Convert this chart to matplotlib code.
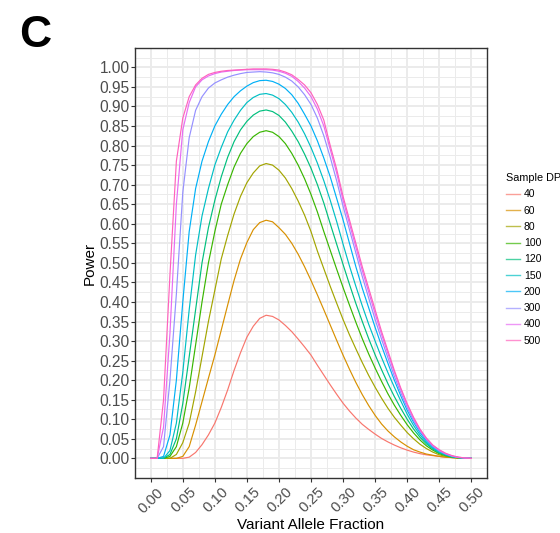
import matplotlib
matplotlib.use("Agg")
import matplotlib.pyplot as plt
import matplotlib.transforms as mtrans
from matplotlib.ticker import MultipleLocator

plt.rcParams['font.family'] = ['Liberation Sans', 'DejaVu Sans']

vaf = [0.00, 0.01, 0.02, 0.03, 0.04, 0.05, 0.06, 0.07, 0.08, 0.09, 0.10,
       0.11, 0.12, 0.13, 0.14, 0.15, 0.16, 0.17, 0.18, 0.19, 0.20,
       0.21, 0.22, 0.23, 0.24, 0.25, 0.26, 0.27, 0.28, 0.29, 0.30,
       0.31, 0.32, 0.33, 0.34, 0.35, 0.36, 0.37, 0.38, 0.39, 0.40,
       0.41, 0.42, 0.43, 0.44, 0.45, 0.46, 0.47, 0.48, 0.49, 0.50]

depths = ["40", "60", "80", "100", "120", "150", "200", "300", "400", "500"]

dp40 = [0, 0, 0, 0, 0, 0, 0.003, 0.015, 0.035, 0.06, 0.09, 0.13, 0.175, 0.225, 0.27, 0.31,
        0.338, 0.358, 0.366, 0.363, 0.354, 0.34, 0.324, 0.305, 0.285, 0.264,
        0.238, 0.213, 0.188, 0.164, 0.141, 0.121, 0.103, 0.087, 0.074, 0.062,
        0.051, 0.042, 0.034, 0.027, 0.021, 0.016, 0.012, 0.009, 0.007, 0.005,
        0.003, 0.002, 0.001, 0, 0]
dp60 = [0, 0, 0, 0, 0, 0.005, 0.03, 0.085, 0.145, 0.205, 0.264, 0.328, 0.392, 0.455, 0.51, 0.552,
        0.585, 0.603, 0.609, 0.605, 0.59, 0.573, 0.55, 0.522, 0.49, 0.455,
        0.418, 0.38, 0.341, 0.302, 0.264, 0.228, 0.194, 0.163, 0.135, 0.11,
        0.088, 0.07, 0.055, 0.042, 0.031, 0.022, 0.016, 0.011, 0.008, 0.005,
        0.003, 0.002, 0.001, 0, 0]
dp80 = [0, 0, 0, 0, 0.01, 0.04, 0.09, 0.17, 0.26, 0.35, 0.43, 0.51, 0.57, 0.625, 0.67, 0.705,
        0.73, 0.748, 0.754, 0.75, 0.737, 0.717, 0.69, 0.658, 0.622, 0.58,
        0.53, 0.485, 0.44, 0.397, 0.355, 0.316, 0.28, 0.245, 0.212, 0.182,
        0.154, 0.128, 0.105, 0.085, 0.066, 0.05, 0.036, 0.025, 0.016, 0.009,
        0.005, 0.002, 0.001, 0, 0]
dp100 = [0, 0, 0, 0.005, 0.03, 0.09, 0.18, 0.29, 0.4, 0.5, 0.58, 0.65, 0.70, 0.745, 0.78, 0.805,
         0.823, 0.834, 0.838, 0.834, 0.823, 0.805, 0.78, 0.75, 0.715, 0.675,
         0.63, 0.58, 0.532, 0.484, 0.437, 0.392, 0.348, 0.306, 0.267, 0.231,
         0.197, 0.165, 0.136, 0.11, 0.086, 0.065, 0.047, 0.032, 0.021, 0.012,
         0.007, 0.003, 0.001, 0.0005, 0]
dp120 = [0, 0, 0, 0.01, 0.05, 0.14, 0.26, 0.38, 0.5, 0.59, 0.66, 0.72, 0.77, 0.81, 0.84, 0.862,
         0.878, 0.888, 0.891, 0.887, 0.877, 0.86, 0.837, 0.81, 0.778, 0.742,
         0.70, 0.653, 0.60, 0.548, 0.496, 0.445, 0.396, 0.35, 0.306, 0.265,
         0.227, 0.191, 0.158, 0.128, 0.1, 0.075, 0.054, 0.037, 0.024, 0.014,
         0.008, 0.004, 0.002, 0.0005, 0]
dp150 = [0, 0, 0, 0.02, 0.09, 0.22, 0.38, 0.52, 0.62, 0.69, 0.75, 0.795, 0.835, 0.865, 0.89, 0.91,
         0.923, 0.931, 0.933, 0.929, 0.92, 0.905, 0.885, 0.86, 0.83, 0.795,
         0.755, 0.71, 0.66, 0.606, 0.548, 0.492, 0.44, 0.39, 0.343, 0.3,
         0.258, 0.219, 0.182, 0.147, 0.113, 0.084, 0.06, 0.041, 0.026, 0.016,
         0.009, 0.004, 0.002, 0.001, 0]
dp200 = [0, 0, 0.005, 0.06, 0.2, 0.4, 0.58, 0.69, 0.76, 0.81, 0.85, 0.88, 0.905, 0.925, 0.94, 0.952,
         0.961, 0.966, 0.967, 0.964, 0.957, 0.946, 0.93, 0.908, 0.88, 0.85,
         0.812, 0.768, 0.72, 0.665, 0.61, 0.55, 0.49, 0.435, 0.385, 0.335,
         0.288, 0.243, 0.2, 0.16, 0.123, 0.092, 0.066, 0.045, 0.029, 0.018,
         0.01, 0.005, 0.002, 0.001, 0]
dp300 = [0, 0, 0.03, 0.2, 0.42, 0.68, 0.82, 0.89, 0.925, 0.947, 0.96, 0.968, 0.975, 0.98, 0.984, 0.987,
         0.988, 0.989, 0.988, 0.986, 0.982, 0.975, 0.965, 0.95, 0.93, 0.905,
         0.87, 0.825, 0.77, 0.71, 0.645, 0.585, 0.525, 0.465, 0.41, 0.355,
         0.305, 0.257, 0.21, 0.168, 0.13, 0.097, 0.07, 0.048, 0.031, 0.019,
         0.011, 0.006, 0.002, 0.001, 0]
dp400 = [0, 0, 0.08, 0.32, 0.65, 0.84, 0.91, 0.95, 0.968, 0.978, 0.984, 0.988, 0.99, 0.992, 0.993, 0.994,
         0.994, 0.994, 0.994, 0.993, 0.99, 0.985, 0.977, 0.964, 0.947, 0.925,
         0.893, 0.85, 0.79, 0.73, 0.66, 0.60, 0.54, 0.48, 0.425, 0.37,
         0.317, 0.268, 0.22, 0.176, 0.137, 0.102, 0.073, 0.05, 0.033, 0.021,
         0.012, 0.006, 0.003, 0.001, 0]
dp500 = [0, 0, 0.15, 0.47, 0.76, 0.87, 0.925, 0.955, 0.972, 0.982, 0.987, 0.99, 0.992, 0.993, 0.994, 0.995,
         0.996, 0.996, 0.996, 0.995, 0.993, 0.988, 0.981, 0.969, 0.955, 0.935,
         0.905, 0.865, 0.80, 0.74, 0.67, 0.61, 0.55, 0.49, 0.435, 0.38,
         0.325, 0.275, 0.225, 0.18, 0.14, 0.105, 0.075, 0.052, 0.034, 0.022,
         0.013, 0.007, 0.003, 0.001, 0]

series = [dp40, dp60, dp80, dp100, dp120, dp150, dp200, dp300, dp400, dp500]
colors = ["#F8766D", "#D89000", "#A3A500", "#39B600", "#00BF7D",
          "#00BFC4", "#00B0F6", "#9590FF", "#E76BF3", "#FF62BC"]

W, H = 560, 533
fig = plt.figure(figsize=(W / 100, H / 100), dpi=100)
ax = fig.add_axes([134.7 / W, 1 - 477.9 / H, (487.3 - 134.7) / W, (477.9 - 47.8) / H])

for lab, ys, c in zip(depths, series, colors):
    ax.plot(vaf, ys, color=c, lw=0.85, label=lab, solid_joinstyle='round')

ax.set_xlim(-0.025, 0.525)
ax.set_ylim(-0.05, 1.05)
ax.xaxis.set_minor_locator(MultipleLocator(0.025))
ax.yaxis.set_minor_locator(MultipleLocator(0.025))
ax.grid(which='major', color='#EBEBEB', lw=1.4)
ax.grid(which='minor', color='#EBEBEB', lw=0.7)
ax.set_axisbelow(True)
for s in ax.spines.values():
    s.set_color('#333333')
    s.set_linewidth(1.0)

ax.tick_params(which='major', length=2.75, width=0.8, color='#333333',
               labelsize=11.2, labelcolor='#4D4D4D', pad=1.0)
ax.tick_params(axis='x', which='major', labelsize=10.7)
ax.tick_params(which='minor', length=0)

xt = [0.00, 0.05, 0.10, 0.15, 0.20, 0.25, 0.30, 0.35, 0.40, 0.45, 0.50]
ax.set_xticks(xt)
ax.set_xticklabels([f"{v:.2f}" for v in xt], rotation=45, ha='right', va='top',
                   rotation_mode='anchor')
off = mtrans.ScaledTranslation(6 / 100, -2 / 100, fig.dpi_scale_trans)
for t in ax.get_xticklabels():
    t.set_transform(t.get_transform() + off)
yt = [i * 0.05 for i in range(21)]
ax.set_yticks(yt)
ax.set_yticklabels([f"{v:.2f}" for v in yt])

fig.text(311 / W, 1 - 525 / H, "Variant Allele Fraction", fontsize=11, ha='center', va='center')
fig.text(90 / W, 1 - 263 / H, "Power", fontsize=11, ha='center', va='center', rotation=90)
fig.text(19 / W, 1 - 15 / H, "C", fontsize=32, fontweight='bold', ha='left', va='top')

leg = fig.legend(loc='upper left', bbox_to_anchor=(501 / W, 1 - 168 / H), frameon=False,
                 title="Sample DP", fontsize=7.5, title_fontsize=7.8, handlelength=1.35,
                 handletextpad=0.35, labelspacing=0.6, alignment='left', borderpad=0)
for h in leg.get_lines():
    h.set_linewidth(1.0)
    h.set_alpha(0.7)

fig.savefig("out.png", dpi=100)
